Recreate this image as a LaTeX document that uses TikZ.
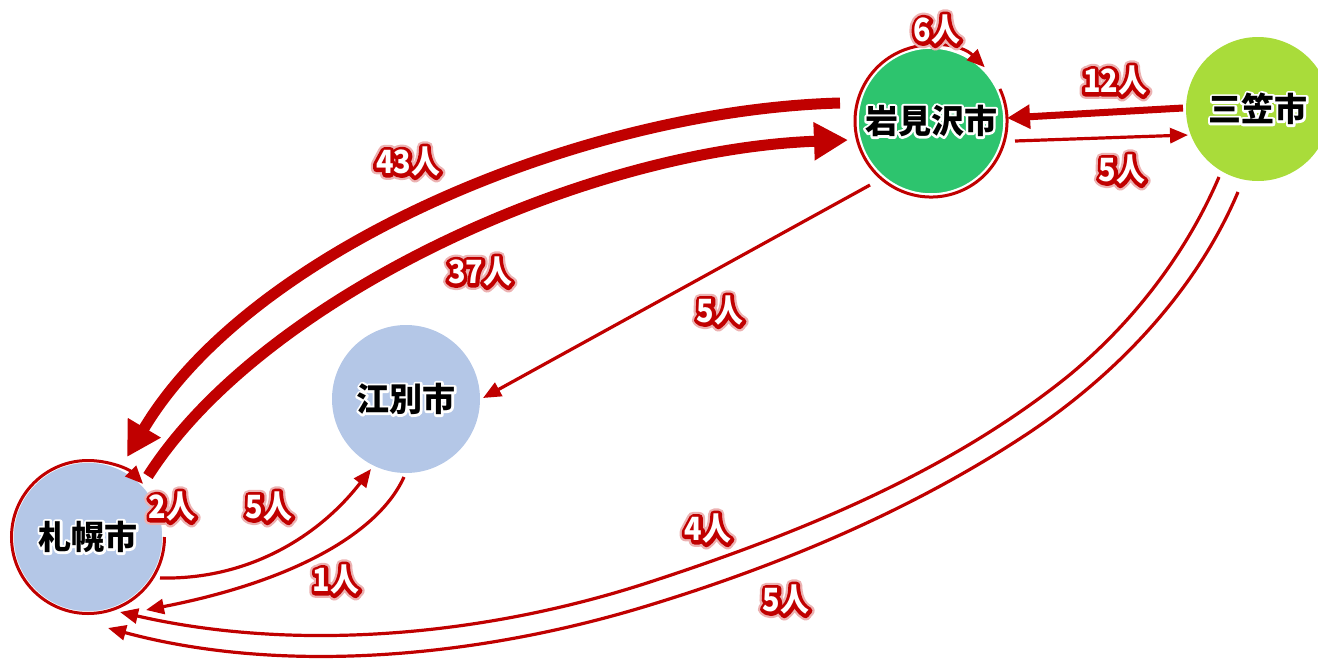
\documentclass[tikz,border=0pt]{standalone}
\usepackage{fontspec}
\usetikzlibrary{arrows.meta,calc}
\newfontfamily\jpfont{Noto Sans CJK JP}
\newfontfamily\jpglow[FakeBold=14,BoldFeatures={FakeBold=14}]{Noto Sans CJK JP}
\newfontfamily\numfont[FakeStretch=0.9]{Noto Sans CJK JP}
\newfontfamily\numglow[FakeStretch=0.9,FakeBold=22,BoldFeatures={FakeBold=22}]{Noto Sans CJK JP}
\newfontfamily\numglowwide[FakeStretch=0.9,FakeBold=36,BoldFeatures={FakeBold=36}]{Noto Sans CJK JP}
\makeatletter
\newcommand\rndjoin{\pgfsys@invoke{1 j 1 J}}
\makeatother
\definecolor{arrred}{HTML}{C00000}
\definecolor{iwagreen}{HTML}{2DC46E}
\definecolor{mikgreen}{HTML}{A9DC3A}
\definecolor{cityblue}{HTML}{B4C7E7}
\tikzset{
  bigarrow/.style={arrred, line width=11pt, -{Triangle[length=34pt,width=36pt]}},
  midarrow/.style={arrred, line width=7pt, -{Triangle[length=23pt,width=23pt]}},
  thinarrow/.style={arrred, line width=3.2pt, -{Triangle[length=18pt,width=15pt]}},
  cityfill/.style={circle, inner sep=0pt, outer sep=0pt},
  citytxt/.style={inner sep=0pt, font=\bfseries\fontsize{33}{33}\selectfont},
  numtxt/.style={inner sep=0pt, font=\bfseries\fontsize{32}{32}\selectfont},
}
\newcommand\citytext[3]{%
  \node[citytxt] (#1) at (#2) {\rndjoin\rlap{\jpglow\color{white}#3}\jpfont\color{black}#3};}
\newcommand\numlabel[3]{%
  \node[numtxt] (#1) at (#2) {\rndjoin\rlap{\numglowwide\color{arrred!30}#3}\rlap{\numglow\color{arrred}#3}\numfont\color{white}#3};}
\begin{document}
\begin{tikzpicture}[x=1pt,y=-1pt]
\useasboundingbox (0,0) rectangle (1318,659);
\clip (0,0) rectangle (1318,659);
% city circles
\node[cityfill, fill=iwagreen, draw=white, line width=1.5pt, minimum size=146pt] (iwa) at (931,121) {};
\node[cityfill, fill=mikgreen, minimum size=144pt] (mik) at (1258,109) {};
\node[cityfill, fill=cityblue, minimum size=148pt] (ebe) at (406,399) {};
\node[cityfill, fill=cityblue, draw=white, line width=1.5pt, minimum size=150pt] (sap) at (88,537) {};
% self loops
\draw[thinarrow, line width=3pt] ($(iwa)+(68.9,-32.1)$) arc[start angle=-25, end angle=315, radius=76];
\draw[thinarrow, line width=3pt] ($(sap)+(76.5,0)$) arc[start angle=0, end angle=316, radius=76.5];
% big flows
\draw[bigarrow] ($(iwa)+(-91,-18)$) .. controls (580,110) and (250,250) .. ($(sap)+(39,-80)$);
\draw[bigarrow] ($(sap)+(60,-61)$) .. controls (260,300) and (580,150) .. ($(iwa)+(-83,19)$);
% Mikasa <-> Iwamizawa
\draw[midarrow] ($(mik)+(-75,-1)$) -- ($(iwa)+(76,-3)$);
\draw[thinarrow] ($(iwa)+(84,20)$) -- ($(mik)+(-70,26)$);
% Iwamizawa -> Ebetsu
\draw[thinarrow] ($(iwa)+(-61,64)$) -- ($(ebe)+(77,-1)$);
% Sapporo <-> Ebetsu
\draw[thinarrow] ($(sap)+(72,41)$) .. controls (250,580) and (320,535) .. ($(ebe)+(-35,70)$);
\draw[thinarrow] ($(ebe)+(-2,78)$) .. controls (380,530) and (300,580) .. ($(sap)+(58,73)$);
% Mikasa -> Sapporo
\draw[thinarrow] ($(mik)+(-39,68)$) .. controls (1186,254) and (1132,324) .. (1067,377)
  .. controls (946,474) and (797,534) .. (650,582)
  .. controls (482,637) and (294,652) .. ($(sap)+(32,75)$);
\draw[thinarrow] ($(mik)+(-20,83)$) .. controls (1197,289) and (1120,371) .. (1033,430)
  .. controls (917,508) and (784,564) .. (650,605)
  .. controls (478,658) and (282,675) .. ($(sap)+(20,91)$);
% city names
\citytext{iwat}{iwa}{岩見沢市}
\citytext{mikt}{mik}{三笠市}
\citytext{ebet}{ebe}{江別市}
\citytext{sapt}{sap}{札幌市}
% flow labels
\numlabel{l6}{937,30}{6人}
\numlabel{l12}{1115,81}{12人}
\numlabel{l5a}{1122,170}{5人}
\numlabel{l43}{408,162}{43人}
\numlabel{l37}{480,272}{37人}
\numlabel{l5b}{720,311}{5人}
\numlabel{l2}{172,507}{2人}
\numlabel{l5c}{269,507}{5人}
\numlabel{l1}{336,580}{1人}
\numlabel{l4}{708,529}{4人}
\numlabel{l5d}{786,600}{5人}
\end{tikzpicture}
\end{document}
